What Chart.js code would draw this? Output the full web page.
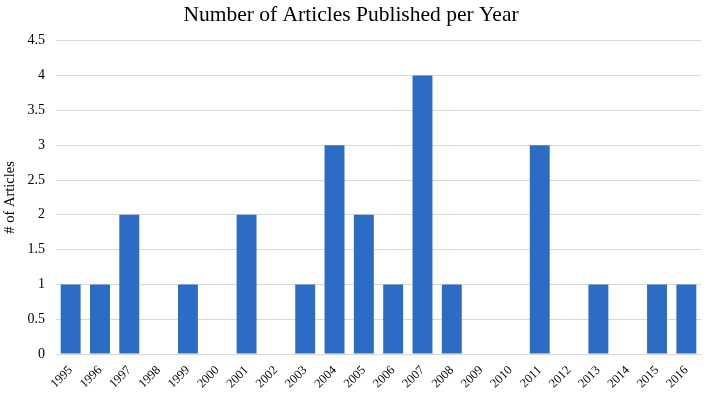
<!DOCTYPE html>
<html>
<head>
<meta charset="utf-8">
<script src="https://cdn.jsdelivr.net/npm/chart.js@4"></script>
<style>
  html, body { margin: 0; padding: 0; background: #fff; }
  #wrap { width: 712px; height: 393px; }
</style>
</head>
<body>
<div id="wrap"><canvas id="myChart" width="712" height="393"></canvas></div>
<script>
// Datos
const years = ['1995', '1996', '1997', '1998', '1999', '2000', '2001', '2002', '2003', '2004', '2005',
    '2006', '2007', '2008', '2009', '2010', '2011', '2012', '2013', '2014', '2015', '2016'];
const articles = [1, 1, 2, 0, 1, 0, 2, 0, 1, 3, 2, 1, 4, 1, 0, 0, 3, 0, 1, 0, 1, 1];
const yTicks = [0, 0.5, 1, 1.5, 2, 2.5, 3, 3.5, 4, 4.5];

const serif = "'Liberation Serif', 'DejaVu Serif', serif";

const chartData = {
    labels: years,
    datasets: [{
        label: '# of Articles',
        backgroundColor: '#2d6cc4',
        borderWidth: 0,
        data: articles,
        barPercentage: 0.68,
        categoryPercentage: 1.0
    }]
};

const config = {
    type: 'bar',
    data: chartData,
    options: {
        responsive: false,
        animation: false,
        layout: { padding: { left: 1, right: 11, top: 2, bottom: 0 } },
        plugins: {
            legend: { display: false },
            tooltip: { enabled: false },
            title: {
                display: true,
                text: 'Number of Articles Published per Year',
                color: '#000',
                font: { family: serif, size: 21.5, weight: 'normal' },
                padding: { top: 0, bottom: 13 }
            }
        },
        scales: {
            x: {
                grid: { display: false },
                border: { display: false },
                afterFit: s => { s.height = 39; },
                ticks: {
                    color: '#000',
                    font: { family: serif, size: 12.5 },
                    minRotation: 45,
                    maxRotation: 45,
                    autoSkip: false,
                    padding: 1
                }
            },
            y: {
                min: 0,
                max: 4.5,
                afterBuildTicks: axis => { axis.ticks = yTicks.map(v => ({ value: v })); },
                afterFit: s => { s.width = 55; },
                grid: { color: '#d9d9d9', lineWidth: 1, drawTicks: false },
                border: { display: false },
                ticks: {
                    color: '#000',
                    font: { family: serif, size: 14 },
                    padding: 11,
                    callback: v => String(v)
                },
                title: {
                    display: true,
                    text: '# of Articles',
                    color: '#000',
                    font: { family: serif, size: 14.5 },
                    padding: { top: 0, bottom: 9 }
                }
            }
        }
    }
};

new Chart(document.getElementById('myChart'), config);
</script>
</body>
</html>
